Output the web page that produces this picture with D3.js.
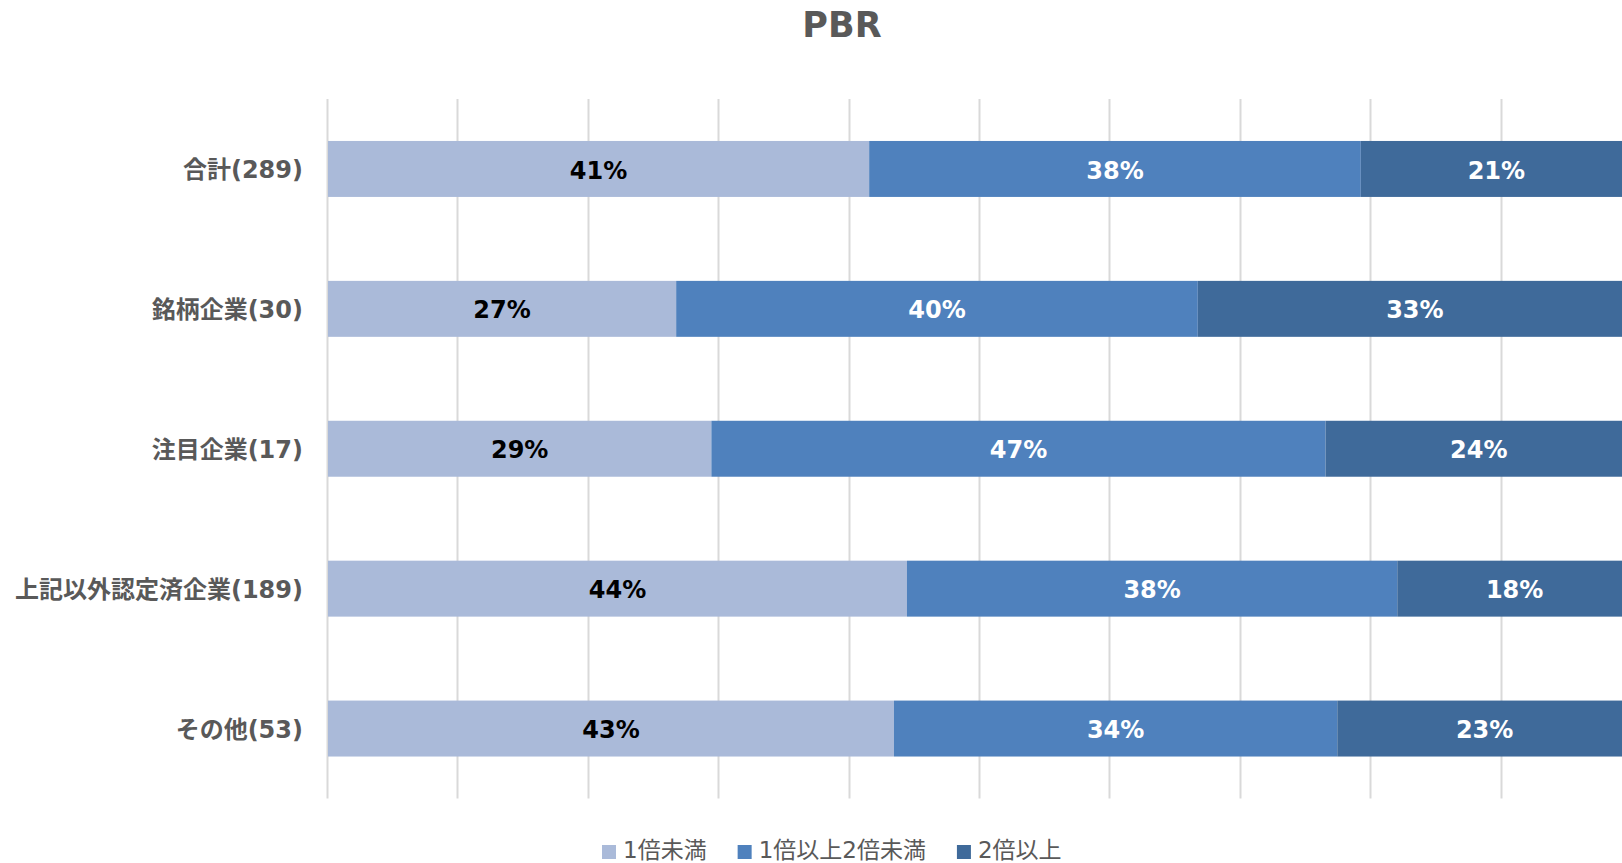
<!DOCTYPE html>
<html>
<head>
<meta charset="utf-8">
<script src="https://cdn.jsdelivr.net/npm/d3@7"></script>
<style>
  html, body { margin: 0; padding: 0; background: #fff; overflow: hidden; }
  svg { display: block; font-family: "DejaVu Sans", "Noto Sans CJK JP", sans-serif; }
</style>
</head>
<body>
<svg id="vis_svg" width="1622" height="863"></svg>
<script>
// categories (top to bottom)
const categories = ['合計(289)', '銘柄企業(30)', '注目企業(17)', '上記以外認定済企業(189)', 'その他(53)'];
const seriesNames = ['1倍未満', '1倍以上2倍未満', '2倍以上'];

// shares in percent
const under1 = [41.5, 26.7, 29.4, 44.4, 43.4];
const from1to2 = [37.7, 40.0, 47.1, 37.6, 34.0];
const over2 = [20.8, 33.3, 23.5, 18.0, 22.6];

// data labels as printed on the chart
const under1Labels = ['41%', '27%', '29%', '44%', '43%'];
const from1to2Labels = ['38%', '40%', '47%', '38%', '34%'];
const over2Labels = ['21%', '33%', '24%', '18%', '23%'];

const xTicks = [0, 10, 20, 30, 40, 50, 60, 70, 80, 90, 100];

const colors = ['#AABAD9', '#4F81BD', '#3F6A9A'];
const labelColors = ['#000000', '#ffffff', '#ffffff'];
const textGrey = '#595959';

const series = [under1, from1to2, over2];
const seriesLabels = [under1Labels, from1to2Labels, over2Labels];

const margin = { top: 99, bottom: 64.5, left: 328, right: -10 };

let svg = d3.select('#vis_svg');
let width = +svg.attr('width');
let height = +svg.attr('height');

const xScale = d3.scaleLinear()
  .domain([0, 100])
  .range([margin.left, width - margin.right]);

const yScale = d3.scaleBand()
  .domain(categories)
  .range([margin.top, height - margin.bottom])
  .paddingInner(0.6)
  .paddingOuter(0.3);

// stacked rows
const rows = categories.map((c, i) => {
  let acc = 0;
  return series.map((s, k) => {
    const seg = { cat: c, k: k, x0: acc, x1: acc + s[i], label: seriesLabels[k][i] };
    acc += s[i];
    return seg;
  });
}).flat();

// title
svg.append('text')
  .attr('x', 842)
  .attr('y', 37)
  .attr('text-anchor', 'middle')
  .style('font-size', '35px')
  .style('font-weight', 'bold')
  .style('fill', textGrey)
  .text('PBR');

// vertical gridlines
svg.append('g')
  .selectAll('line')
  .data(xTicks)
  .enter()
  .append('line')
  .attr('x1', (d) => Math.round(xScale(d)) - 0.5)
  .attr('x2', (d) => Math.round(xScale(d)) - 0.5)
  .attr('y1', margin.top)
  .attr('y2', height - margin.bottom)
  .attr('stroke', '#D9D9D9')
  .attr('stroke-width', 2);

// bars
svg.append('g')
  .selectAll('rect')
  .data(rows)
  .enter()
  .append('rect')
  .attr('x', (d) => xScale(d.x0))
  .attr('width', (d) => xScale(d.x1) - xScale(d.x0))
  .attr('y', (d) => yScale(d.cat))
  .attr('height', yScale.bandwidth())
  .attr('fill', (d) => colors[d.k]);

// data labels
svg.append('g')
  .selectAll('text')
  .data(rows)
  .enter()
  .append('text')
  .attr('x', (d) => (xScale(d.x0) + xScale(d.x1)) / 2)
  .attr('y', (d) => yScale(d.cat) + yScale.bandwidth() / 2)
  .attr('dy', '0.4em')
  .attr('text-anchor', 'middle')
  .style('font-size', '24px')
  .style('font-weight', 'bold')
  .style('fill', (d) => labelColors[d.k])
  .text((d) => d.label);

// category axis
const gy = svg.append('g')
  .attr('transform', `translate(${margin.left - 25},0)`)
  .call(d3.axisLeft(yScale).tickSize(0).tickPadding(0));
gy.select('.domain').remove();
gy.selectAll('text')
  .attr('dy', '0.38em')
  .style('font-family', '"DejaVu Sans", "Noto Sans CJK JP", sans-serif')
  .style('font-size', '24px')
  .style('font-weight', 'bold')
  .style('fill', textGrey);

// legend
const legend = svg.append('g').attr('class', 'legend');
let lx = 602;
seriesNames.forEach((name, k) => {
  const item = legend.append('g').attr('transform', `translate(${lx},0)`);
  item.append('rect')
    .attr('x', 0)
    .attr('y', 845)
    .attr('width', 14)
    .attr('height', 14)
    .attr('fill', colors[k]);
  const t = item.append('text')
    .attr('x', 21)
    .attr('y', 858)
    .style('font-size', '23px')
    .style('fill', textGrey)
    .text(name);
  lx += 21 + t.node().getComputedTextLength() + 31;
});
</script>
</body>
</html>
